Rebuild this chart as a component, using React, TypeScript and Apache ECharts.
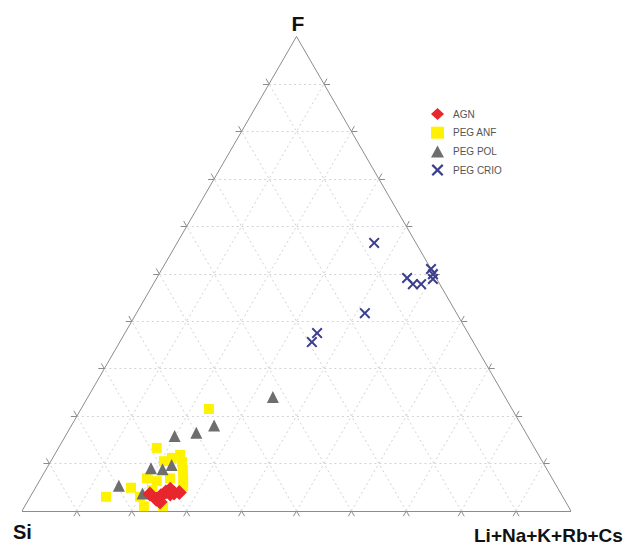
import React, { useEffect, useRef } from "react";
import * as echarts from "echarts";

// Ternary data: [Si, Li+Na+K+Rb+Cs, F] in percent
const agn: number[][] = [
  [74.9, 21.5, 3.6], [74.3, 23.2, 2.5], [73.1, 23.7, 3.2], [71.8, 24.2, 4.0],
  [70.4, 25.8, 3.8], [69.4, 26.7, 3.9], [73.9, 24.2, 1.9], [71.2, 25.2, 3.6],
  [70.7, 24.7, 4.6],
];
const pegAnf: number[][] = [
  [55.2, 23.3, 21.5], [68.8, 17.9, 13.3], [65.3, 22.9, 11.8], [65.7, 24.0, 10.3],
  [66.4, 25.0, 8.6], [67.2, 25.9, 6.9], [68.0, 26.7, 5.3], [68.9, 20.6, 10.5],
  [67.1, 21.7, 11.2], [73.8, 19.3, 6.9], [72.3, 21.4, 6.3], [77.7, 17.4, 4.9],
  [83.2, 13.8, 3.0], [77.3, 21.7, 1.0], [73.8, 25.2, 1.0], [74.1, 21.5, 4.4],
  [69.6, 23.5, 6.9], [77.0, 20.0, 3.0],
];
const pegPol: number[][] = [
  [42.3, 33.7, 24.0], [56.0, 26.0, 18.0], [60.0, 23.5, 16.5], [64.3, 19.9, 15.8],
  [67.9, 22.4, 9.7], [70.0, 21.2, 8.8], [72.0, 19.0, 9.0], [79.7, 15.0, 5.3],
  [76.2, 20.1, 3.7],
];
const pegCrio: number[][] = [
  [7.6, 35.9, 56.5], [5.3, 45.6, 49.1], [4.9, 47.3, 47.8], [3.4, 48.8, 47.8],
  [0.0, 49.0, 51.0], [0.2, 49.9, 49.9], [0.7, 50.4, 48.9], [16.7, 41.6, 41.7],
  [27.5, 35.0, 37.5], [29.4, 35.0, 35.6],
];
const seriesNames = ["AGN", "PEG ANF", "PEG POL", "PEG CRIO"];
const gridSteps = [10, 20, 30, 40, 50, 60, 70, 80, 90];
const vertexLabels = { top: "F", left: "Si", right: "Li+Na+K+Rb+Cs" };

const SQ = Math.sqrt(3) / 2;
const toXY = (p: number[]) => {
  const s = p[0] + p[1] + p[2];
  return [(p[1] + p[2] / 2) / s, (p[2] / s) * SQ];
};

const FONT = "'Liberation Sans', Arial, Helvetica, sans-serif";
const X_PATH =
  "path://M0,1.3L1.3,0L5,3.7L8.7,0L10,1.3L6.3,5L10,8.7L8.7,10L5,6.3L1.3,10L0,8.7L3.7,5Z";

export default function App() {
  const ref = useRef<HTMLDivElement>(null);
  useEffect(() => {
    if (!ref.current) return;
    const chart = echarts.init(ref.current, null, { renderer: "svg" });

    const gridLines: any[] = [];
    const ticks: any[] = [];
    const L = 0.011;
    gridSteps.forEach((v) => {
      const t = v / 100;
      gridLines.push({ coords: [toXY([100 - v, 0, v]), toXY([0, 100 - v, v])] });
      gridLines.push({ coords: [toXY([v, 100 - v, 0]), toXY([v, 0, 100 - v])] });
      gridLines.push({ coords: [toXY([100 - v, v, 0]), toXY([0, v, 100 - v])] });
      // bottom edge ticks
      ticks.push({ coords: [[t, 0], [t + 0.5 * L, -SQ * L]] });
      ticks.push({ coords: [[t, 0], [t - 0.5 * L, -SQ * L]] });
      // left edge ticks
      const lp = toXY([100 - v, 0, v]);
      ticks.push({ coords: [lp, [lp[0] - L, lp[1]]] });
      ticks.push({ coords: [lp, [lp[0] - 0.5 * L, lp[1] + SQ * L]] });
      // right edge ticks
      const rp = toXY([0, 100 - v, v]);
      ticks.push({ coords: [rp, [rp[0] + L, rp[1]]] });
      ticks.push({ coords: [rp, [rp[0] + 0.5 * L, rp[1] + SQ * L]] });
    });
    const vS = toXY([100, 0, 0]);
    const vR = toXY([0, 100, 0]);
    const vF = toXY([0, 0, 100]);
    const frame = [
      { coords: [vS, vR] },
      { coords: [vR, vF] },
      { coords: [vF, vS] },
    ];

    chart.setOption({
      animation: false,
      grid: { left: 22, top: 36.5, width: 549, height: 474.5 },
      xAxis: { type: "value", min: 0, max: 1, show: false },
      yAxis: { type: "value", min: 0, max: SQ, show: false },
      legend: {
        orient: "vertical",
        left: 426,
        top: 103,
        itemWidth: 13,
        itemHeight: 12,
        itemGap: 6.7,
        textStyle: {
          fontSize: 10,
          color: "#555",
          fontFamily: FONT,
          padding: [0, 0, 0, 4],
        },
        data: seriesNames,
      },
      graphic: [
        {
          type: "text",
          x: 298,
          y: 23,
          style: {
            text: vertexLabels.top,
            font: `bold 21px ${FONT}`,
            fill: "#111",
            align: "center",
            verticalAlign: "middle",
          },
        },
        {
          type: "text",
          x: 13,
          y: 532,
          style: {
            text: vertexLabels.left,
            font: `bold 20px ${FONT}`,
            fill: "#111",
            align: "left",
            verticalAlign: "middle",
          },
        },
        {
          type: "text",
          x: 474,
          y: 535,
          style: {
            text: vertexLabels.right,
            font: `bold 19px ${FONT}`,
            fill: "#111",
            align: "left",
            verticalAlign: "middle",
          },
        },
      ],
      series: [
        {
          type: "lines",
          coordinateSystem: "cartesian2d",
          silent: true,
          clip: false,
          lineStyle: { color: "#d3d3d3", width: 1, type: [2, 3], opacity: 1 },
          data: gridLines,
        },
        {
          type: "lines",
          coordinateSystem: "cartesian2d",
          silent: true,
          clip: false,
          lineStyle: { color: "#8c8c8c", width: 1, opacity: 1 },
          data: frame.concat(ticks),
        },
        {
          name: seriesNames[1],
          type: "scatter",
          clip: false,
          symbol: "rect",
          symbolSize: 10,
          itemStyle: { color: "#fff200", opacity: 1 },
          data: pegAnf.map(toXY),
        },
        {
          name: seriesNames[2],
          type: "scatter",
          clip: false,
          symbol: "triangle",
          symbolSize: 12,
          itemStyle: { color: "#6e6e6e", opacity: 1 },
          data: pegPol.map(toXY),
        },
        {
          name: seriesNames[0],
          type: "scatter",
          clip: false,
          symbol: "diamond",
          symbolSize: 15,
          itemStyle: { color: "#e8262d", opacity: 1 },
          data: agn.map(toXY),
        },
        {
          name: seriesNames[3],
          type: "scatter",
          clip: false,
          symbol: X_PATH,
          symbolSize: 11,
          itemStyle: { color: "#3c3f8f", opacity: 1 },
          data: pegCrio.map(toXY),
        },
      ],
    });
    return () => chart.dispose();
  }, []);
  return (
    <div
      ref={ref}
      style={{ position: "absolute", left: 0, top: 0, width: 640, height: 544 }}
    />
  );
}
